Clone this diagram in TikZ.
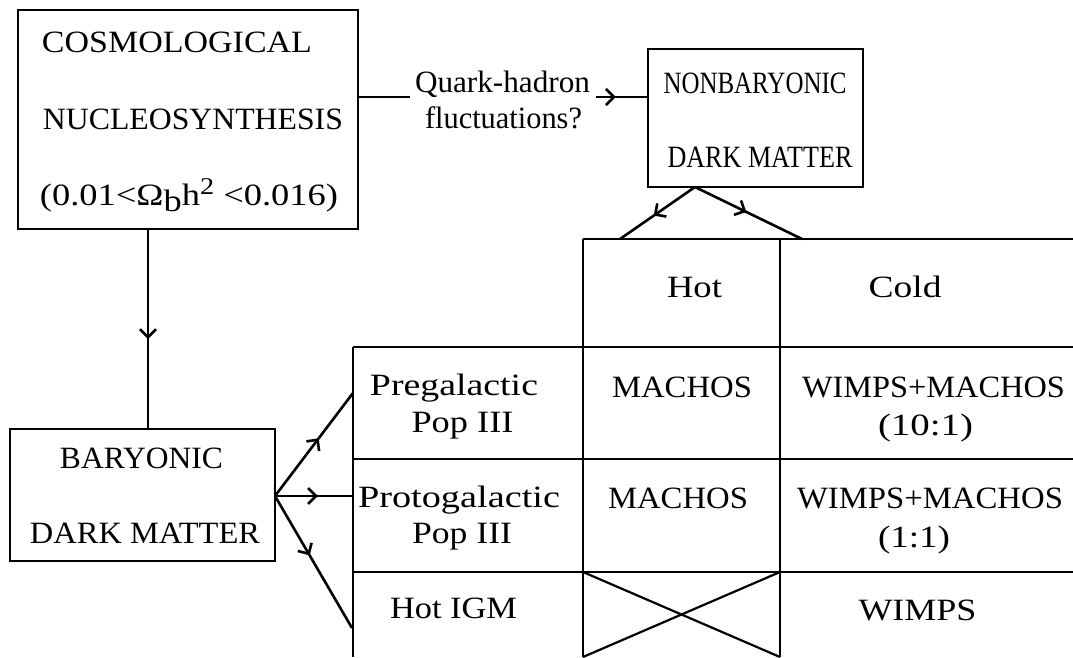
\documentclass[tikz,border=0pt]{standalone}
\usepackage{fontspec}
\usepackage{graphicx}
\setmainfont{Liberation Serif}
\usetikzlibrary{arrows.meta,decorations.markings}
\newcommand{\fitto}[2]{\resizebox{#1pt}{\height}{#2}}
\begin{document}
\begin{tikzpicture}[x=1pt,y=-1pt,line width=2.6pt,
  box/.style={draw,line width=2.6pt,inner sep=0pt},
  txt/.style={font=\fontsize{31}{36}\selectfont,inner sep=0pt,anchor=base},
  midarrow/.style={postaction={decorate},decoration={markings,
    mark=at position #1 with {\arrow{Straight Barb[length=8pt,width=16pt,line width=2.6pt]}}}},
  conn/.style={line width=2.6pt}]
\useasboundingbox (0,0) rectangle (1073,657);
\fill[white] (0,0) rectangle (1073,657);

% boxes
\node[box,minimum width=340pt,minimum height=219pt] (cosmo) at (188,119.5) {};
\node[box,minimum width=215pt,minimum height=138pt] (nonbary) at (755.5,118) {};
\node[box,minimum width=265pt,minimum height=132pt] (bary) at (142.5,495) {};

% box texts
\node[txt] (c1) at (177,52) {\fitto{270}{COSMOLOGICAL}};
\node[txt] (c2) at (193,129) {\fitto{300}{NUCLEOSYNTHESIS}};
\node[txt] (c3) at (189,205) {\fitto{298}{(0.01<Ω\raisebox{-6pt}{b}h\raisebox{11pt}{\fontsize{24}{24}\selectfont 2} <0.016)}};
\node[txt] (n1) at (755,93) {\fitto{183}{NONBARYONIC}};
\node[txt] (n2) at (760,167) {\fitto{185}{DARK MATTER}};
\node[txt] (b1) at (141.5,468) {\fitto{163}{BARYONIC}};
\node[txt] (b2) at (145,543) {\fitto{230}{DARK MATTER}};

% quark-hadron label
\node[txt] (q1) at (502.5,92) {\fitto{175}{Quark-hadron}};
\node[txt] (q2) at (503.5,128) {\fitto{157}{fluctuations?}};

% connection points
\coordinate (cR) at (358,97);
\coordinate (qL) at (410,97);
\coordinate (qR) at (596,97);
\coordinate (nL) at (648,97);
\coordinate (nB) at (695,187);
\coordinate (hotT) at (620,239);
\coordinate (coldT) at (802,239);
\coordinate (cB) at (148,229);
\coordinate (bT) at (148,429);
\coordinate (bR) at (275,496);
\coordinate (pre) at (353,393);
\coordinate (pro) at (353,496);
\coordinate (igm) at (352,628);

% connectors
\draw[conn] (cR) -- (qL);
\draw[conn,midarrow=0.38] (qR) -- (nL);
\draw[conn,midarrow=0.55] (nB) -- (hotT);
\draw[conn,midarrow=0.48] (nB) -- (coldT);
\draw[conn,midarrow=0.55] (cB) -- (bT);
\draw[conn,midarrow=0.56] (bR) -- (pre);
\draw[conn,midarrow=0.55] (bR) -- (pro);
\draw[conn,midarrow=0.45] (bR) -- (igm);

% table grid
\draw[conn] (583,239) -- (1073,239);
\draw[conn] (583,239) -- (583,657);
\draw[conn] (780,239) -- (780,657);
\draw[conn] (353,347) -- (1073,347);
\draw[conn] (353,459) -- (1073,459);
\draw[conn] (353,572) -- (1073,572);
\draw[conn] (353,347) -- (353,657);
\draw[line width=2.2pt] (583,572) -- (780,657);
\draw[line width=2.2pt] (780,572) -- (583,657);

% table texts
\node[txt] (hot) at (694.5,297) {\fitto{55}{Hot}};
\node[txt] (cold) at (905,297) {\fitto{73}{Cold}};
\node[txt] (pg1) at (454,395) {\fitto{168}{Pregalactic}};
\node[txt] (pg2) at (462.5,432) {\fitto{102}{Pop III}};
\node[txt] (pt1) at (459,507) {\fitto{202}{Protogalactic}};
\node[txt] (pt2) at (462,543) {\fitto{100}{Pop III}};
\node[txt] (igmt) at (453.5,618) {\fitto{127}{Hot IGM}};
\node[txt] (m1) at (682,397) {\fitto{140}{MACHOS}};
\node[txt] (w1) at (933.5,397) {\fitto{263}{WIMPS+MACHOS}};
\node[txt] (r1) at (925.5,435) {\fitto{95}{(10:1)}};
\node[txt] (m2) at (678,508) {\fitto{140}{MACHOS}};
\node[txt] (w2) at (930,508) {\fitto{266}{WIMPS+MACHOS}};
\node[txt] (r2) at (914,547) {\fitto{72}{(1:1)}};
\node[txt] (w3) at (917.5,620) {\fitto{118}{WIMPS}};
\end{tikzpicture}
\end{document}
